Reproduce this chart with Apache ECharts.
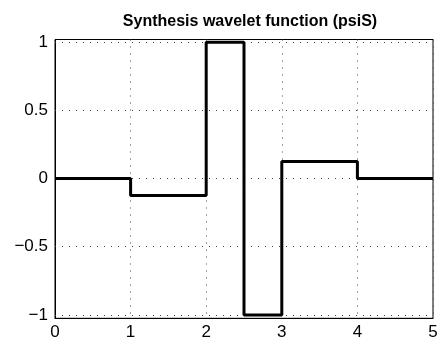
<!DOCTYPE html>
<html>
<head>
<meta charset="utf-8">
<style>
  html, body { margin: 0; padding: 0; background: #fff; }
  #chart { width: 441px; height: 343px; }
</style>
<script src="https://cdn.jsdelivr.net/npm/echarts@6/dist/echarts.min.js"></script>
</head>
<body>
<div id="chart"></div>
<script>
// Piecewise-constant synthesis wavelet: breakpoints and level held from each one
const breakX = [0, 1, 2, 2.5, 3, 4, 5];
const levelY = [0, -0.125, 1, -1, 0.125, 0, 0];
const xTicks = [0, 1, 2, 3, 4, 5];
const yTicks = [-1, -0.5, 0, 0.5, 1];
const titleText = 'Synthesis wavelet function (psiS)';

const fmt = v => (v < 0 ? '\u2212' + String(-v) : String(v));

const chart = echarts.init(document.getElementById('chart'), null, { renderer: 'canvas' });

const dotted = { color: '#444', width: 1, type: [1, 6] };
const labelFont = { color: '#000', fontFamily: 'Liberation Sans, Arial', fontSize: 17 };

chart.setOption({
  animation: false,
  backgroundColor: '#fff',
  title: {
    text: titleText,
    left: 245,
    textAlign: 'center',
    top: 9,
    textStyle: { fontFamily: 'Liberation Sans, Arial', fontWeight: 'bold', fontSize: 16, color: '#000' }
  },
  grid: {
    left: 55, right: 8, top: 39.5, bottom: 24.7,
    show: true, borderColor: '#000', borderWidth: 1, backgroundColor: '#fff'
  },
  xAxis: {
    type: 'value', min: 0, max: 5, interval: 1,
    axisLine: { show: true, onZero: false, lineStyle: { color: '#000', width: 1 } },
    axisTick: { show: false },
    axisLabel: Object.assign({ margin: 6, customValues: xTicks, formatter: fmt }, labelFont),
    splitLine: { show: true, lineStyle: dotted }
  },
  yAxis: {
    type: 'value', min: -1.025, max: 1.02,
    axisLine: { show: true, onZero: false, lineStyle: { color: '#000', width: 1 } },
    axisTick: { show: false, customValues: yTicks },
    axisLabel: Object.assign({ margin: 7, customValues: yTicks, formatter: fmt }, labelFont),
    splitLine: { show: false }
  },
  series: [
    {
      // dotted horizontal grid lines at the labelled y values
      type: 'line', data: [], silent: true,
      markLine: {
        symbol: 'none', silent: true, label: { show: false },
        lineStyle: dotted,
        data: yTicks.map(v => ({ yAxis: v }))
      }
    },
    {
      type: 'line',
      step: 'end',
      data: breakX.map((x, i) => [x, levelY[i]]),
      showSymbol: false,
      lineStyle: { color: '#000', width: 3 },
      z: 5
    }
  ]
});
</script>
</body>
</html>
